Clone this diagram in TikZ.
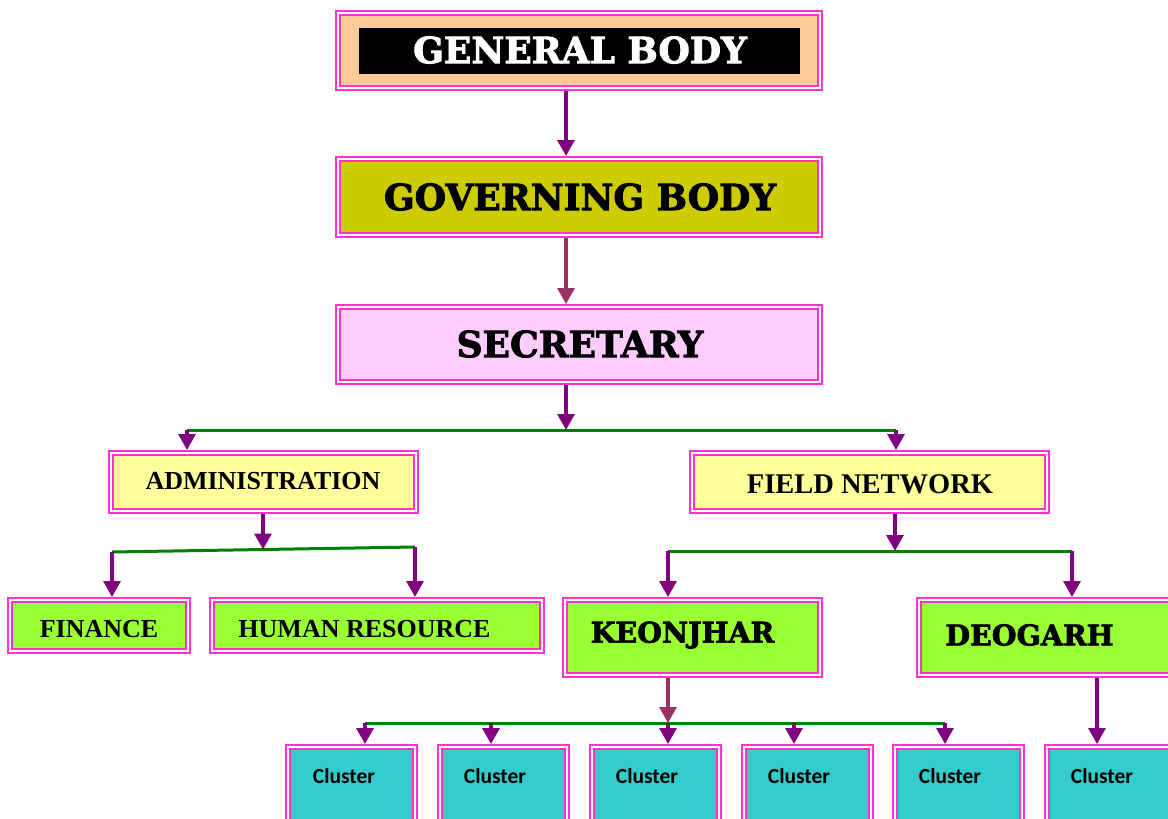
\documentclass[tikz,border=0pt]{standalone}
\usepackage{fontspec}
\setmainfont{Liberation Serif}
\newfontfamily\heavyfont{DejaVu Serif Bold}[FakeBold=2.5]
\newfontfamily\clusterfont{Carlito}
\usetikzlibrary{arrows.meta}
\definecolor{pinkb}{HTML}{FF33CC}
\definecolor{arrpurple}{HTML}{800080}
\definecolor{arrmaroon}{HTML}{993366}
\definecolor{lnkgreen}{HTML}{008000}
\definecolor{peach}{HTML}{FFCC99}
\definecolor{olivey}{HTML}{CCCC00}
\definecolor{lpink}{HTML}{FFCCFF}
\definecolor{lyellow}{HTML}{FFFF99}
\definecolor{lime}{HTML}{99FF33}
\definecolor{teal2}{HTML}{33CCCC}
\tikzset{
  box/.style={draw=pinkb, double=white, double distance=2pt, line width=2pt,
    inner sep=0pt, outer sep=3pt, rectangle},
  heavy/.style={font=\heavyfont\fontsize{36}{40}\selectfont, inner sep=0pt},
  heavysm/.style={font=\heavyfont\fontsize{28.5}{32}\selectfont, inner sep=0pt},
  times/.style={font=\bfseries\fontsize{26}{30}\selectfont, inner sep=0pt},
  clus/.style={font=\clusterfont\bfseries\fontsize{21.5}{25}\selectfont, inner sep=0pt},
  arr/.style={draw=arrpurple, line width=3.2pt, -{Triangle[width=17pt,length=16pt]}},
  arrm/.style={draw=arrmaroon, line width=3.2pt, -{Triangle[width=17pt,length=16pt]}},
  glink/.style={draw=lnkgreen, line width=3pt},
  clbox/.style={box, fill=teal2, minimum width=127pt, minimum height=84pt},
}
\begin{document}
\begin{tikzpicture}[x=1pt,y=-1pt]
\useasboundingbox (0,0) rectangle (1168,819);
% boxes
\node[box, fill=peach, minimum width=482pt, minimum height=75pt] (gen) at (579,50.5) {};
\node[fill=black, minimum width=441pt, minimum height=46pt, inner sep=0pt] (genin) at (579.5,51) {};
\node[heavy, text=white] (gent) at (580,50) {GENERAL BODY};
\node[box, fill=olivey, minimum width=482pt, minimum height=76pt] (gov) at (579,197) {};
\node[heavy] (govt) at (580,197) {GOVERNING BODY};
\node[box, fill=lpink, minimum width=482pt, minimum height=75pt] (sec) at (579,344.5) {};
\node[heavy] (sect) at (580,344) {SECRETARY};
\node[box, fill=lyellow, minimum width=305pt, minimum height=58pt] (adm) at (263.5,482) {};
\node[times] (admt) at (263,481.5) {ADMINISTRATION};
\node[box, fill=lyellow, minimum width=355pt, minimum height=58pt] (fld) at (869.5,482) {};
\node[times, font=\bfseries\fontsize{28.5}{32}\selectfont] (fldt) at (870,484) {FIELD NETWORK};
\node[box, fill=lime, minimum width=178pt, minimum height=51pt] (fin) at (99,625.5) {};
\node[times] (fint) at (99,629) {FINANCE};
\node[box, fill=lime, minimum width=330pt, minimum height=51pt] (hr) at (377,625.5) {};
\node[times] (hrt) at (364.5,629) {HUMAN RESOURCE};
\node[box, fill=lime, minimum width=255pt, minimum height=75pt] (keo) at (692.5,637.5) {};
\node[heavysm] (keot) at (682.5,635) {KEONJHAR};
\node[box, fill=lime, minimum width=258pt, minimum height=75pt] (deo) at (1048,637.5) {};
\node[heavysm] (deot) at (1029.5,635) {DEOGARH};
\node[clbox] (cl1) at (351.5,789) {};
\node[clbox] (cl2) at (503.5,789) {};
\node[clbox] (cl3) at (655,789) {};
\node[clbox] (cl4) at (807,789) {};
\node[clbox] (cl5) at (958.5,789) {};
\node[clbox] (cl6) at (1110.5,789) {};
\node[clus] (cl1t) at (344,776) {Cluster};
\node[clus] (cl2t) at (495,776) {Cluster};
\node[clus] (cl3t) at (647,776) {Cluster};
\node[clus] (cl4t) at (799,776) {Cluster};
\node[clus] (cl5t) at (950,776) {Cluster};
\node[clus] (cl6t) at (1102,776) {Cluster};
% junction coordinates
\coordinate (m1) at (566,0);
\coordinate (j1) at (566,430);
\coordinate (j1l) at (187,430);
\coordinate (j1r) at (896,430);
\coordinate (j2) at (263,549.5);
\coordinate (j2l) at (112,552);
\coordinate (j2r) at (415,547);
\coordinate (j3) at (895,551);
\coordinate (j3l) at (668,551);
\coordinate (j3r) at (1072,551);
\coordinate (j4) at (668,723);
\coordinate (j4l) at (365,723);
\coordinate (j4r) at (945,723);
\coordinate (k2) at (491,723);
\coordinate (k4) at (794,723);
\coordinate (dx) at (1097,0);
% connectors
\draw[arr] (gen.south -| m1) -- (gov.north -| m1);
\draw[arrm] (gov.south -| m1) -- (sec.north -| m1);
\draw[glink] (j1l) -- (j1r);
\draw[arr] (sec.south -| m1) -- (j1);
\draw[arr] (j1l) -- (adm.north -| j1l);
\draw[arr] (j1r) -- (fld.north -| j1r);
\draw[glink] (j2l) -- (j2r);
\draw[arr] (adm.south -| j2) -- (j2);
\draw[arr] (j2l) -- (fin.north -| j2l);
\draw[arr] (j2r) -- (hr.north -| j2r);
\draw[glink] (j3l) -- (j3r);
\draw[arr] (fld.south -| j3) -- (j3);
\draw[arr] (j3l) -- (keo.north -| j3l);
\draw[arr] (j3r) -- (deo.north -| j3r);
\draw[glink] (j4l) -- (j4r);
\draw[arrm] (keo.south -| j4) -- (j4);
\draw[arr] (j4l) -- (cl1.north -| j4l);
\draw[arr] (k2) -- (cl2.north -| k2);
\draw[arr] (j4) -- (cl3.north -| j4);
\draw[arr] (k4) -- (cl4.north -| k4);
\draw[arr] (j4r) -- (cl5.north -| j4r);
\draw[arr] (deo.south -| dx) -- (cl6.north -| dx);
\end{tikzpicture}
\end{document}
